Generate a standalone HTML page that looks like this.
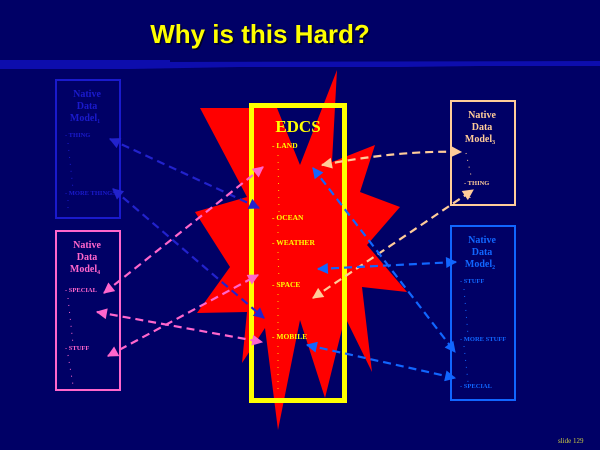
<!DOCTYPE html>
<html><head><meta charset="utf-8"><style>
html,body{margin:0;padding:0;background:#000066;}
svg{display:block}
.s{font-family:"Liberation Serif",serif;font-weight:bold}
</style></head><body>
<svg width="600" height="450" viewBox="0 0 600 450" xmlns="http://www.w3.org/2000/svg">
<defs>
<marker id="mdb" viewBox="0 0 10 10" refX="9" refY="5" markerWidth="5.5" markerHeight="5" orient="auto-start-reverse"><path d="M0,0L10,5L0,10z" fill="#2222cc"/></marker>
<marker id="mpk" viewBox="0 0 10 10" refX="9" refY="5" markerWidth="5.5" markerHeight="5" orient="auto-start-reverse"><path d="M0,0L10,5L0,10z" fill="#ff66cc"/></marker>
<marker id="mpc" viewBox="0 0 10 10" refX="9" refY="5" markerWidth="5.5" markerHeight="5" orient="auto-start-reverse"><path d="M0,0L10,5L0,10z" fill="#ffcc99"/></marker>
<marker id="mbl" viewBox="0 0 10 10" refX="9" refY="5" markerWidth="5.5" markerHeight="5" orient="auto-start-reverse"><path d="M0,0L10,5L0,10z" fill="#1166ff"/></marker>
</defs>
<rect width="600" height="450" fill="#000066"/>
<polygon points="0,60 170,60 170,62 600,61 600,66 480,66 400,67 240,67 130,69 0,69" fill="#0d0dad"/>
<text x="260" y="43" text-anchor="middle" font-family="Liberation Sans,sans-serif" font-weight="bold" font-size="26" fill="#000000" opacity="0.6" transform="translate(1.5,1.5)">Why is this Hard?</text>
<text x="260" y="43" text-anchor="middle" font-family="Liberation Sans,sans-serif" font-weight="bold" font-size="26" fill="#ffff00">Why is this Hard?</text>

<polygon fill="#ff0000" points="337,70 332,162 375,145 360,192 400,207 367,245 407,292 362,287 372,372 345,317 325,398 300,320 278,430 265,328 242,363 247,312 197,313 230,267 195,212 247,197 200,108 277,108 300,165"/>

<rect x="56" y="80" width="64" height="138" fill="none" stroke="#1a1acc" stroke-width="2"/>
<rect x="56" y="231" width="64" height="159" fill="none" stroke="#ff66cc" stroke-width="2"/>
<rect x="451" y="101" width="64" height="104" fill="none" stroke="#ffcc99" stroke-width="2"/>
<rect x="451" y="226" width="64" height="174" fill="none" stroke="#1166ff" stroke-width="2"/>
<rect x="251.5" y="105.5" width="93" height="295" fill="none" stroke="#ffff00" stroke-width="5"/>

<g class="s" font-size="10" text-anchor="middle">
<text x="87" y="97" fill="#1a1acc">Native</text><text x="87" y="109" fill="#1a1acc">Data</text><text x="85" y="121" fill="#1a1acc">Model<tspan font-size="6" dy="2">1</tspan></text>
<text x="87" y="248" fill="#ff66cc">Native</text><text x="87" y="260" fill="#ff66cc">Data</text><text x="85" y="272" fill="#ff66cc">Model<tspan font-size="6" dy="2">4</tspan></text>
<text x="482" y="118" fill="#ffcc99">Native</text><text x="482" y="130" fill="#ffcc99">Data</text><text x="480" y="142" fill="#ffcc99">Model<tspan font-size="6" dy="2">3</tspan></text>
<text x="482" y="243" fill="#1166ff">Native</text><text x="482" y="255" fill="#1166ff">Data</text><text x="480" y="267" fill="#1166ff">Model<tspan font-size="6" dy="2">2</tspan></text>
</g>
<text x="298" y="132" class="s" font-size="17" text-anchor="middle" fill="#ffff00">EDCS</text>

<g class="s" font-size="6.5">
<text x="65" y="137" fill="#1a1acc">- THING</text>
<text x="65" y="195" fill="#1a1acc">- MORE THINGS</text>
<text x="65" y="292" fill="#ff66cc">- SPECIAL</text>
<text x="65" y="350" fill="#ff66cc">- STUFF</text>
<text x="464" y="185" fill="#ffcc99">- THING</text>
<text x="460" y="283" fill="#1166ff">- STUFF</text>
<text x="460" y="341" fill="#1166ff">- MORE STUFF</text>
<text x="460" y="388" fill="#1166ff">- SPECIAL</text>
</g>
<g class="s" font-size="7.5" fill="#ffff00">
<text x="272" y="148">- LAND</text>
<text x="272" y="220">- OCEAN</text>
<text x="272" y="245">- WEATHER</text>
<text x="272" y="287">- SPACE</text>
<text x="272" y="339">- MOBILE</text>
</g>
<g stroke-width="1" stroke-dasharray="1,6">
<line x1="278" y1="155" x2="279" y2="212" stroke="#ffcc00"/>
<line x1="278" y1="225" x2="278" y2="236" stroke="#ffcc00"/>
<line x1="278" y1="252" x2="279" y2="280" stroke="#ffcc00"/>
<line x1="278" y1="294" x2="278" y2="332" stroke="#ffcc00"/>
<line x1="278" y1="346" x2="278" y2="392" stroke="#ffcc00"/>
<line x1="68" y1="143" x2="73" y2="189" stroke="#1a1acc"/>
<line x1="68" y1="200" x2="68" y2="214" stroke="#1a1acc"/>
<line x1="68" y1="298" x2="73" y2="344" stroke="#ff66cc"/>
<line x1="68" y1="355" x2="73" y2="385" stroke="#ff66cc"/>
<line x1="466" y1="153" x2="472" y2="180" stroke="#ffcc99"/>
<line x1="470" y1="190" x2="470" y2="200" stroke="#ffcc99"/>
<line x1="464" y1="289" x2="468" y2="335" stroke="#1166ff"/>
<line x1="464" y1="346" x2="468" y2="382" stroke="#1166ff"/>
</g>

<g fill="none" stroke-width="2.2" stroke-dasharray="8,5">
<line x1="110" y1="139" x2="259" y2="208" stroke="#2222cc" marker-start="url(#mdb)" marker-end="url(#mdb)"/>
<line x1="113" y1="189" x2="264" y2="318" stroke="#2222cc" marker-start="url(#mdb)" marker-end="url(#mdb)"/>
<line x1="104" y1="293" x2="263" y2="167" stroke="#ff66cc" marker-start="url(#mpk)" marker-end="url(#mpk)"/>
<line x1="97" y1="312" x2="262" y2="342" stroke="#ff66cc" marker-start="url(#mpk)" marker-end="url(#mpk)"/>
<line x1="108" y1="356" x2="258" y2="275" stroke="#ff66cc" marker-start="url(#mpk)" marker-end="url(#mpk)"/>
<path d="M322,165 Q400,150 461,152" stroke="#ffcc99" marker-start="url(#mpc)" marker-end="url(#mpc)"/>
<line x1="313" y1="298" x2="473" y2="190" stroke="#ffcc99" marker-start="url(#mpc)" marker-end="url(#mpc)"/>
<line x1="313" y1="168" x2="455" y2="352" stroke="#1166ff" marker-start="url(#mbl)" marker-end="url(#mbl)"/>
<line x1="318" y1="269" x2="456" y2="262" stroke="#1166ff" marker-start="url(#mbl)" marker-end="url(#mbl)"/>
<line x1="307" y1="345" x2="455" y2="378" stroke="#1166ff" marker-start="url(#mbl)" marker-end="url(#mbl)"/>
</g>

<text x="558" y="443" font-family="Liberation Serif,serif" font-size="7" fill="#cccc44">slide 129</text>
</svg>
</body></html>
